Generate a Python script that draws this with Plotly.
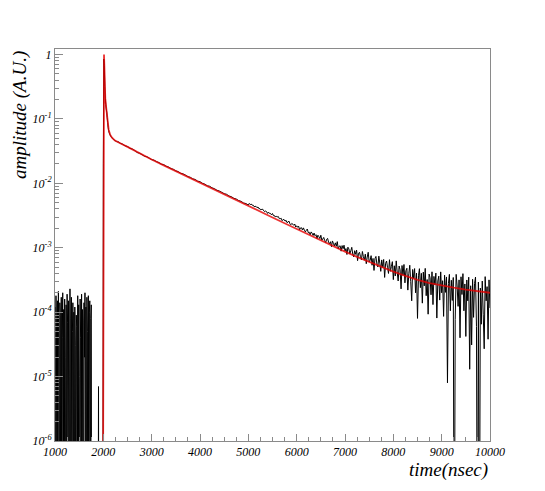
import plotly.graph_objects as go

# ---------------- data (amplitudes of the black trace in units of 1e-6) ----------------
UNIT = 1e-6

# pre-pulse baseline noise, samples every 10 ns starting at 1000 ns
pre_start, pre_step = 1000, 10
pre_vals = [120, -40, 180, 60, -90, 150, -20, 210, 30, -60,
            140, 90, -110, 170, -30, 40, 200, -70, 110, -10,
            160, 20, -80, 130, -50, 190, 70, -120, 150, 10,
            -40, 230, -60, 80, 170, -90, 50, 140, -30, 100,
            -70, 120, 30, -100, 90, 60, -20, 180, -50, 130,
            10, -80, 160, 40, -60, 190, -30, 110, 70, -110,
            140, 20, 200, -40, 120, -70, 170, 50, -20, 180,
            -90, 100, 150, -60, 80, 130, -40,
            -30, -50, -20, -60, -40, -10, -30, -50, -20, -40,
            -60, -30, -20, 7, -40, -30, -50, -20, -40, -30,
            -50, -20, -40]

# pulse, samples every 10 ns starting at 2000 ns
pulse_start, pulse_step = 2000, 10
pulse_vals = [20000, 850000, 680000, 320000, 210000, 168000, 143000, 127000, 105000, 88000,
              74000, 66000, 61500, 58500, 56500, 54500, 53000, 51500, 50500, 49500,
              48700, 48000, 47300, 46700, 46200, 45700, 45200, 44800, 44400, 44000]

# early decay, samples every 50 ns starting at 2300 ns
mid_start, mid_step = 2300, 50
mid_vals = [44600, 41800, 40500, 38200, 37300, 35000, 34100, 32300, 30100, 29300,
            27900, 26300, 25900, 24600, 23300, 22900, 21700, 21000, 19800, 19500,
            18400, 17900, 16900, 16500, 15600, 15200, 14300, 14000, 13400, 12700,
            12400, 11700, 11500, 10800, 10600, 10000, 9700, 9150, 9000, 8500,
            8250, 7800, 7600, 7250, 6900, 6750, 6350, 6200, 5850, 5700,
            5400, 5250, 4950, 4850, 4600]

# late decay, samples every 20 ns starting at 5020 ns
tail_start, tail_step = 5020, 20
tail_vals = [4870, 4680, 4765, 4580, 4580, 4340, 4385, 4385, 4185, 4290,
             4030, 4040, 3870, 3955, 3950, 3735, 3630, 3720, 3615, 3405,
             3560, 3400, 3405, 3235, 3395, 3150, 3160, 2990, 3115, 2995,
             3050, 2835, 2825, 2865, 2630, 2735, 2740, 2590, 2670, 2455,
             2505, 2590, 2360, 2275, 2390, 2320, 2230, 2335, 2095, 2190,
             2080, 2165, 1900, 2030, 2045, 1885, 2035, 1865, 1760, 1870,
             1950, 1715, 1740, 1590, 1760, 1680, 1550, 1690, 1540, 1595,
             1385, 1565, 1485, 1385, 1565, 1310, 1370, 1445, 1290, 1205,
             1350, 1395, 1220, 1145, 1240, 1035, 1275, 1170, 1065, 1190,
             1055, 1245, 960, 1055, 1070, 885, 1080, 965, 1095, 890,
             970, 785, 1020, 960, 800, 895, 1015, 800, 720, 900,
             790, 920, 630, 820, 850, 725, 650, 875, 730, 640,
             795, 565, 715, 850, 600, 637, 753, 535, 682, 444,
             681, 733, 555, 502, 740, 577, 430, 647, 495, 658,
             346, 574, 622, 495, 399, 652, 431, 514, 608, 320,
             525, 365, 625, 420, 305, 520, 455, 230, 530, 375,
             550, 285, 440, 480, 220, 395, 535, 300, 150, 460,
             335, 475, 200, 405, 80, 367, 473, 240, 401, 138,
             419, 256, 478, 180, 321, 93, 390, 343, 186, 423,
             131, 359, 266, 404, 81, 304, 362, 154, 422, 200,
             308, 86, 375, 203, 352, 8, 278, 386, 105, 313,
             152, 345, -11, 77, 386, 255, 123, 317, 40, 354,
             188, 396, 105, 274, 42, 316, 150, 349, 13, 257,
             31, 324, 83, 277, 351, 60, -6, 293, -13, 236,
             65, 304, 93, 27, 356, 150, 249, 38, 317, 116]

# fitted curve (red)
fit_t = [1990, 2000, 2008, 2014, 2020, 2025, 2030, 2040, 2055, 2070,
         2090, 2110, 2140, 2180, 2240, 2300, 2400, 2500, 2600, 2750,
         3000, 3250, 3500, 3750, 4000, 4250, 4500, 4750, 5000, 5250,
         5500, 5750, 6000, 6250, 6500, 6750, 7000, 7250, 7500, 7750,
         8000, 8250, 8500, 8750, 9000, 9250, 9500, 9750, 10000]
fit_v = [1e-8, 0.05, 0.7, 1.0, 0.7, 0.45, 0.32, 0.21, 0.16, 0.13,
         0.088, 0.068, 0.057, 0.051, 0.046, 0.044, 0.040, 0.0368, 0.0336, 0.0288,
         0.0234, 0.0190, 0.0155, 0.0126, 0.0102, 0.0083, 0.0068, 0.0055, 0.00447, 0.00363,
         0.00295, 0.00240, 0.00195, 0.00158, 0.00129, 0.00105, 0.00087, 0.00072, 0.00060, 0.00051,
         0.000427, 0.000365, 0.000316, 0.000282, 0.000257, 0.000240, 0.000224, 0.000211, 0.000200]

x_tick_vals = [1000, 2000, 3000, 4000, 5000, 6000, 7000, 8000, 9000, 10000]
x_tick_text = ["1000", "2000", "3000", "4000", "5000", "6000", "7000", "8000", "9000", "10000"]
y_tick_vals = [1e-6, 1e-5, 1e-4, 1e-3, 1e-2, 1e-1, 1]
y_tick_text = ["10<sup>-6</sup>", "10<sup>-5</sup>", "10<sup>-4</sup>", "10<sup>-3</sup>",
               "10<sup>-2</sup>", "10<sup>-1</sup>", "1"]

# ---------------- build trace ----------------
segments = [(pre_start, pre_step, pre_vals), (pulse_start, pulse_step, pulse_vals),
            (mid_start, mid_step, mid_vals), (tail_start, tail_step, tail_vals)]
t_all, v_all = [], []
for start, step, vals in segments:
    for i, val in enumerate(vals):
        t_all.append(start + i * step)
        v_all.append(val * UNIT)
# non-positive samples are drawn down to the bottom of the log frame
v_plot = [v if v > 0 else 1e-9 for v in v_all]

x_minor = [t for t in range(1000, 10001, 250) if t % 1000 != 0]
y_minor = [k * 10.0 ** e for e in range(-6, 1) for k in range(2, 10) if k * 10.0 ** e < 1.3]

FONT = "Liberation Serif"
AXC = "#8a8a8a"

fig = go.Figure()
fig.add_trace(go.Scatter(x=t_all, y=v_plot, mode="lines",
                         line=dict(color="black", width=1.0, simplify=False),
                         hoverinfo="skip", showlegend=False))
fig.add_trace(go.Scatter(x=fit_t, y=fit_v, mode="lines",
                         line=dict(color="rgba(230,0,0,0.8)", width=1.8),
                         hoverinfo="skip", showlegend=False))

fig.update_layout(
    width=545, height=491,
    margin=dict(l=55, r=55, t=49, b=50),
    paper_bgcolor="white", plot_bgcolor="white",
    showlegend=False,
    xaxis=dict(range=[1000, 10000], tickvals=x_tick_vals, ticktext=x_tick_text,
               ticks="inside", ticklen=7, tickcolor=AXC, tickwidth=1,
               showline=True, linecolor=AXC, linewidth=1, mirror=True,
               showgrid=False, zeroline=False,
               tickfont=dict(family=FONT, size=12, style="italic", color="black"),
               minor=dict(tickvals=x_minor, ticks="inside", ticklen=4, tickcolor=AXC, showgrid=False)),
    yaxis=dict(type="log", range=[-6, 0.085], tickvals=y_tick_vals, ticktext=y_tick_text,
               ticks="inside", ticklen=8, tickcolor=AXC, tickwidth=1,
               showline=True, linecolor=AXC, linewidth=1, mirror=True,
               showgrid=False, zeroline=False,
               tickfont=dict(family=FONT, size=12, style="italic", color="black"),
               minor=dict(tickvals=y_minor, ticks="inside", ticklen=4, tickcolor=AXC, showgrid=False)),
    annotations=[
        dict(text="amplitude (A.U.)", xref="paper", yref="paper",
             x=(20 - 55) / 435, y=1.0, xanchor="center", yanchor="top",
             textangle=-90, showarrow=False,
             font=dict(family=FONT, size=19, style="italic", color="black")),
        dict(text="time(nsec)", xref="paper", yref="paper",
             x=1.0, y=(441 - 470) / 392, xanchor="right", yanchor="middle",
             showarrow=False,
             font=dict(family=FONT, size=19, style="italic", color="black")),
    ],
)

fig.write_html("out.html", config={"displayModeBar": False},
               post_script="document.body.style.margin='0';document.body.style.overflow='hidden';")
